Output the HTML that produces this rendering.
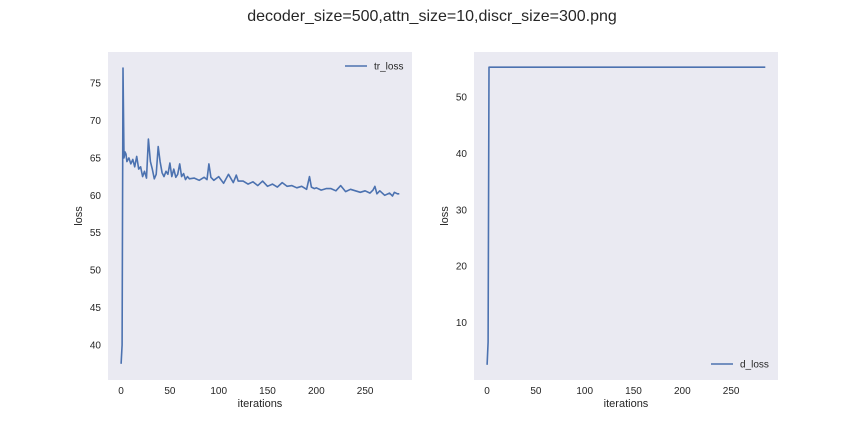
<!DOCTYPE html>
<html><head><meta charset="utf-8"><style>
body{margin:0;background:#fff;font-family:"Liberation Sans",sans-serif;}
svg text{font-family:"Liberation Sans",sans-serif;fill:#262626;}
</style></head><body>
<svg id="c" width="864" height="432">
<text x="432" y="21" font-size="16" text-anchor="middle">decoder_size=500,attn_size=10,discr_size=300.png</text>
</svg>
<script>
const trIters=[0,1,2,3,4,5,6,8,10,12,14,16,18,20,22,24,26,28,30,32,34,36,38,40,42,44,46,48,50,52,54,56,58,60,62,64,66,68,70,75,80,85,88,90,92,95,100,105,110,115,118,120,125,130,135,140,145,150,155,160,165,170,175,180,185,190,193,195,198,200,205,210,215,220,225,230,235,240,245,250,255,258,260,262,265,270,275,278,280,283,285];
const trLoss=[37.5,40,77,65,65.8,65.5,64.5,65,64.2,64.8,63.8,65.2,63.5,63.8,62.5,63.2,62.3,67.5,64.5,63.5,62.2,62.8,66.5,64.5,63,62.5,63.2,62.8,64.3,62.5,63.5,62.4,62.8,64.2,62.5,62.9,62.1,62.5,62.2,62.3,62,62.4,62.1,64.2,62.4,62,62.5,61.6,62.8,61.7,62.7,61.9,61.9,61.5,61.8,61.3,61.9,61.2,61.5,61.1,61.7,61.2,61.3,61,61.2,60.8,62.5,61.1,60.9,61,60.7,60.9,60.9,60.6,61.3,60.5,60.8,60.6,60.4,60.6,60.3,60.7,61.2,60.2,60.6,60,60.3,59.9,60.4,60.2,60.2];
const dIters=[0,1,2,3,285];
const dLoss=[2.5,6.5,55.3,55.3,55.3];
const xTicks=[0,50,100,150,200,250];
const trYTicks=[40,45,50,55,60,65,70,75];
const dYTicks=[10,20,30,40,50];

const svg=document.getElementById('c');
const NS='http://www.w3.org/2000/svg';
function mk(t,a,p){const e=document.createElementNS(NS,t);for(const k in a)e.setAttribute(k,a[k]);(p||svg).appendChild(e);return e;}

function panel(px,pname,xs,ys,yTicks,x0,x1,y0,y1,legendText,legendTop){
  const L=px,R=px+304,T=52,B=380;
  const g=mk('g',{});
  
  
  mk('rect',{x:L,y:T,width:R-L,height:B-T,fill:'#eaeaf2'},g);
  const sx=v=>L+(v-x0)/(x1-x0)*(R-L);
  const sy=v=>B-(v-y0)/(y1-y0)*(B-T);
  xTicks.forEach(t=>{const e=mk('text',{x:sx(t),y:B+14,'font-size':10,'text-anchor':'middle'},g);e.textContent=t;
    
    });
  yTicks.forEach(t=>{const e=mk('text',{x:L-7,y:sy(t)+3.5,'font-size':10,'text-anchor':'end'},g);e.textContent=t;
    
    });
  const xl=mk('text',{x:(L+R)/2,y:B+27,'font-size':11,'text-anchor':'middle'},g);xl.textContent='iterations';
  
  
  const yl=mk('text',{x:0,y:0,'font-size':11,'text-anchor':'middle',transform:`translate(${L-26},${(T+B)/2}) rotate(-90)`},g);yl.textContent='loss';
  
  
  const d=xs.map((x,i)=>(i?'L':'M')+sx(x).toFixed(1)+','+sy(ys[i]).toFixed(1)).join('');
  const p=mk('path',{d,fill:'none',stroke:'#4c72b0','stroke-width':1.6,'stroke-linejoin':'round'},g);
  
  
  const ly=legendTop?T+14:B-16;
  const lg=mk('g',{},g);
  
  
  mk('line',{x1:R-67,x2:R-45,y1:ly,y2:ly,stroke:'#4c72b0','stroke-width':1.6},lg);
  const lt=mk('text',{x:R-38,y:ly+3.5,'font-size':10},lg);lt.textContent=legendText;
}
panel(108,'tr-loss-panel',trIters,trLoss,trYTicks,-13.4,298,35.33,79.14,'tr_loss',true);
panel(474,'d-loss-panel',dIters,dLoss,dYTicks,-13.4,298,-0.2,58,'d_loss',false);
</script>
</body></html>
